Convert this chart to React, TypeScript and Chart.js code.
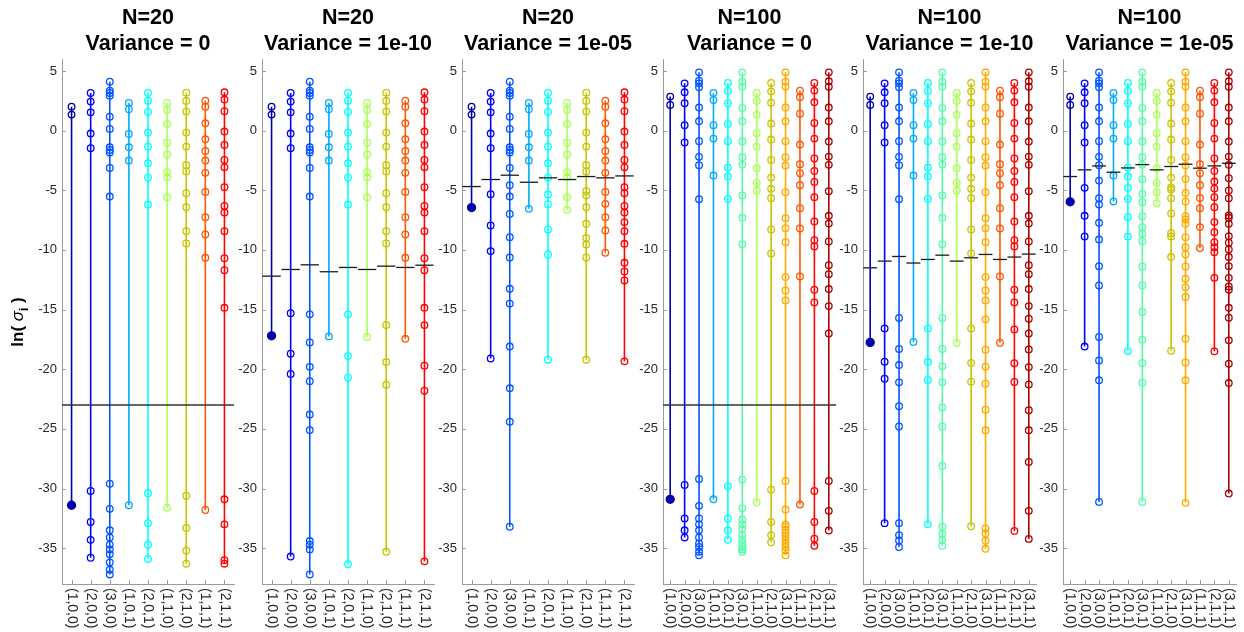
import React, { useEffect, useRef } from 'react';
import { Chart, registerables } from 'chart.js';
Chart.register(...registerables);

const LABELS9 = ['(1,0,0)', '(2,0,0)', '(3,0,0)', '(1,0,1)', '(2,0,1)', '(1,1,0)', '(2,1,0)', '(1,1,1)', '(2,1,1)'];
const LABELS12 = ['(1,0,0)', '(2,0,0)', '(3,0,0)', '(1,0,1)', '(2,0,1)', '(3,0,1)', '(1,1,0)', '(2,1,0)', '(3,1,0)', '(1,1,1)', '(2,1,1)', '(3,1,1)'];

const COLORS: Record<string, string> = {
  '(1,0,0)': '#0000AA',
  '(2,0,0)': '#0000FF',
  '(3,0,0)': '#0055FF',
  '(1,0,1)': '#00AAFF',
  '(2,0,1)': '#00FFFF',
  '(3,0,1)': '#55FFAA',
  '(1,1,0)': '#AAFF55',
  '(2,1,0)': '#C8C400',
  '(3,1,0)': '#FFAA00',
  '(1,1,1)': '#FF5500',
  '(2,1,1)': '#FF0000',
  '(3,1,1)': '#AA0000',
};

const Y_TICKS = [-35, -30, -25, -20, -15, -10, -5, 0, 5];
const THRESHOLD = -23;

// N=20 : large singular values (shared by Variance = 0 and 1e-10)
const N20_UPPER: number[][] = [
  [2.0, 1.34],
  [3.15, 2.43, 1.53, -0.25, -1.48],
  [4.1, 3.35, 3.15, 2.93, 1.17, 0.14, -1.4, -1.62, -1.84, -3.13, -5.53],
  [2.32, 1.79, -0.28, -1.4, -2.51],
  [3.15, 2.51, 1.56, -0.17, -1.34, -2.74, -3.94, -6.2],
  [2.32, 1.73, 0.56, -1.0, -2.0, -3.49, -3.91, -5.58],
  [3.18, 2.48, 1.59, -0.17, -1.34, -2.9, -3.43, -5.25, -6.42, -8.43, -9.46],
  [2.51, 2.0, 0.61, -0.73, -1.7, -2.51, -3.54, -5.14, -7.26, -8.71, -10.66],
  [3.21, 2.6, 1.62, -0.08, -1.2, -2.46, -3.07, -4.74, -6.31, -6.87, -8.43, -10.7, -11.7, -14.85],
];
const N20_V0_LOWER: number[][] = [
  [-31.4],
  [-30.2, -32.8, -34.3, -35.8],
  [-29.6, -31.7, -33.5, -34.1, -34.7, -35.1, -35.5, -36.2, -36.8, -37.2],
  [-31.4],
  [-30.4, -32.9, -34.7, -35.9],
  [-31.6],
  [-30.6, -33.3, -35.2, -36.3],
  [-31.8],
  [-30.9, -33.0, -36.0, -36.3],
];
const N20_V10_LOWER: number[][] = [
  [-17.2],
  [-15.3, -18.7, -20.4, -35.7],
  [-15.4, -17.75, -19.8, -21.0, -23.8, -25.1, -34.4, -34.7, -35.1, -37.2],
  [-17.25],
  [-15.4, -18.9, -20.7, -36.35],
  [-17.3],
  [-16.3, -19.4, -21.3, -35.3],
  [-17.45],
  [-16.3, -19.7, -21.8, -36.1],
];
const N20_V10_DASH = [-12.2, -11.64, -11.25, -11.83, -11.47, -11.64, -11.36, -11.47, -11.28];
const N20_V5: number[][] = [
  [2.0, 1.34, -6.45],
  [3.15, 2.43, 1.53, -0.25, -1.48, -5.33, -7.95, -10.1, -19.1],
  [4.1, 3.35, 3.15, 2.93, 1.17, 0.14, -1.4, -1.62, -1.84, -3.13, -4.58, -5.53, -6.98, -8.93, -10.63, -13.26, -14.5, -18.1, -21.6, -24.4, -33.2],
  [2.32, 1.79, -0.28, -1.4, -2.51, -6.56],
  [3.15, 2.51, 1.56, -0.17, -1.34, -2.74, -3.94, -5.36, -6.17, -8.29, -10.38, -19.2],
  [2.32, 1.73, 0.56, -1.0, -2.0, -3.49, -3.91, -5.58, -6.64],
  [3.18, 2.48, 1.59, -0.17, -1.34, -2.9, -3.43, -5.08, -5.44, -6.42, -7.81, -8.99, -9.55, -10.63, -19.2],
  [2.51, 2.0, 0.61, -0.73, -1.7, -2.51, -3.54, -5.14, -6.14, -7.26, -8.37, -10.24],
  [3.21, 2.6, 1.62, -0.08, -1.2, -2.46, -3.07, -4.74, -5.25, -6.31, -6.87, -7.67, -8.43, -9.49, -11.08, -11.81, -12.56, -19.34],
];
const N20_V5_DASH = [-4.69, -4.1, -3.74, -4.33, -3.96, -4.1, -3.85, -3.96, -3.8];

// N=100 : large singular values (shared by Variance = 0 and 1e-10)
const N100_UPPER: number[][] = [
  [2.85, 2.15],
  [3.96, 3.21, 2.29, 0.45, -1.0],
  [4.88, 4.19, 3.96, 3.63, 1.93, 0.78, -0.89, -2.2, -2.9, -5.75],
  [3.15, 2.57, 0.45, -0.67, -3.77],
  [3.99, 3.32, 2.29, 0.56, -0.89, -3.1, -3.85, -5.72],
  [4.88, 4.1, 3.68, 1.9, 0.78, -0.92, -2.23, -2.85, -5.44, -7.31, -9.52],
  [3.15, 2.51, 1.34, -0.22, -1.34, -3.15, -4.38, -5.02],
  [3.99, 3.29, 2.34, 0.59, -0.75, -2.46, -3.94, -4.88, -5.67, -8.29, -10.3],
  [4.88, 4.1, 3.68, 1.93, 0.78, -0.89, -2.23, -2.93, -5.16, -7.34, -8.18, -9.35, -12.28, -13.4, -14.23],
  [3.35, 2.79, 1.42, -1.17, -2.82, -3.57, -4.58, -6.5, -8.2, -12.22],
  [3.99, 3.35, 2.37, 0.64, -0.67, -2.34, -3.38, -4.3, -5.58, -7.62, -9.18, -9.71, -13.34, -14.4],
  [4.88, 4.13, 3.68, 1.93, 0.78, -0.92, -2.18, -2.87, -5.08, -7.14, -7.79, -9.29, -11.28, -12.03, -13.28, -14.71, -17.0],
];
const N100_V0_LOWER: number[][] = [
  [-30.9],
  [-29.7, -32.5, -33.5, -34.1],
  [-29.2, -31.45, -32.5, -33.0, -33.5, -34.1, -34.6, -34.9, -35.3, -35.6],
  [-30.9],
  [-29.8, -32.5, -33.5, -34.3],
  [-29.25, -31.65, -32.6, -33.0, -33.4, -33.9, -34.3, -34.6, -34.9, -35.1, -35.3],
  [-31.15],
  [-30.1, -32.8, -33.9, -34.5],
  [-29.36, -31.76, -33.0, -33.2, -33.45, -33.7, -34.0, -34.3, -34.6, -34.9, -35.2, -35.6],
  [-31.34],
  [-30.2, -32.8, -34.2, -34.8],
  [-29.36, -31.87, -33.52],
];
const N100_V10_LOWER: number[][] = [
  [-17.75],
  [-16.58, -19.37, -20.8, -32.9],
  [-15.7, -18.3, -19.65, -21.1, -23.1, -24.8, -32.9, -33.9, -34.36, -34.9],
  [-17.72],
  [-16.58, -19.4, -20.9, -33.0],
  [-15.7, -18.3, -19.76, -21.1, -23.2, -24.8, -28.1, -33.2, -33.8, -34.3, -34.8],
  [-17.8],
  [-16.58, -19.48, -21.04, -33.16],
  [-15.82, -18.36, -19.79, -21.21, -23.39, -25.12, -33.35, -33.77, -34.38, -35.05],
  [-17.78],
  [-16.66, -19.5, -21.07, -33.55],
  [-15.77, -18.34, -19.82, -21.27, -23.44, -25.12, -27.77, -31.87, -34.22],
];
const N100_V10_DASH = [-11.5, -10.94, -10.55, -11.1, -10.8, -10.44, -10.94, -10.66, -10.38, -10.8, -10.6, -10.35];
const N100_V5: number[][] = [
  [2.85, 2.15, -5.97],
  [3.96, 3.21, 2.29, 0.45, -1.0, -4.8, -7.14, -8.87, -18.1],
  [4.88, 4.19, 3.96, 3.63, 1.93, 0.78, -0.89, -2.2, -2.9, -4.19, -5.67, -6.2, -7.73, -9.13, -11.36, -12.98, -17.3, -19.26, -20.93, -31.12],
  [3.15, 2.57, 0.45, -0.67, -3.77, -5.94],
  [3.99, 3.32, 2.29, 0.56, -0.89, -3.1, -3.85, -4.8, -5.72, -7.26, -8.87, -18.48],
  [4.88, 4.1, 3.68, 1.9, 0.78, -0.92, -2.23, -2.85, -4.07, -5.3, -6.0, -7.17, -8.09, -8.65, -9.27, -11.39, -12.98, -15.2, -17.53, -19.48, -21.13, -31.12],
  [3.15, 2.51, 1.34, -0.22, -1.34, -3.15, -4.38, -5.16, -6.08],
  [3.99, 3.29, 2.34, 0.59, -0.75, -2.46, -3.94, -4.77, -4.94, -5.67, -6.95, -8.6, -8.87, -10.6, -18.45],
  [4.88, 4.1, 3.68, 1.93, 0.78, -0.89, -2.23, -2.93, -4.05, -5.22, -5.94, -7.17, -7.45, -7.81, -8.93, -9.77, -10.38, -11.39, -12.42, -13.12, -13.95, -17.44, -19.43, -20.93, -31.2],
  [3.35, 2.79, 1.42, -1.17, -2.82, -3.57, -4.58, -5.64, -6.5, -8.09, -9.85],
  [3.99, 3.35, 2.37, 0.64, -0.67, -2.34, -3.38, -4.27, -4.86, -5.58, -6.42, -7.67, -8.51, -9.35, -9.77, -10.19, -12.34, -18.5],
  [4.88, 4.13, 3.68, 1.93, 0.78, -0.92, -2.18, -2.87, -3.99, -5.02, -5.67, -7.12, -7.31, -7.81, -8.85, -9.4, -9.96, -10.6, -11.36, -12.34, -13.06, -13.34, -14.85, -15.68, -17.58, -19.54, -21.16, -30.42],
];
const N100_V5_DASH = [-3.85, -3.29, -2.96, -3.49, -3.13, -2.85, -3.29, -3.01, -2.82, -3.15, -2.96, -2.74];

const join = (a: number[][], b: number[][]) => a.map((v, i) => [...v, ...b[i]]);

type PanelDef = {
  t1: string;
  t2: string;
  labels: string[];
  data: number[][];
  dash: number[] | null;
  thresh: number | null;
  plotLeft: number;
  plotW: number;
  axisW: number;
  yLabel: boolean;
};

const PANELS: PanelDef[] = [
  { t1: 'N=20', t2: 'Variance = 0', labels: LABELS9, data: join(N20_UPPER, N20_V0_LOWER), dash: null, thresh: THRESHOLD, plotLeft: 62, plotW: 172, axisW: 62, yLabel: true },
  { t1: 'N=20', t2: 'Variance = 1e-10', labels: LABELS9, data: join(N20_UPPER, N20_V10_LOWER), dash: N20_V10_DASH, thresh: null, plotLeft: 262, plotW: 172, axisW: 50, yLabel: false },
  { t1: 'N=20', t2: 'Variance = 1e-05', labels: LABELS9, data: N20_V5, dash: N20_V5_DASH, thresh: null, plotLeft: 462, plotW: 172, axisW: 50, yLabel: false },
  { t1: 'N=100', t2: 'Variance = 0', labels: LABELS12, data: join(N100_UPPER, N100_V0_LOWER), dash: null, thresh: THRESHOLD, plotLeft: 663, plotW: 173, axisW: 50, yLabel: false },
  { t1: 'N=100', t2: 'Variance = 1e-10', labels: LABELS12, data: join(N100_UPPER, N100_V10_LOWER), dash: N100_V10_DASH, thresh: null, plotLeft: 863, plotW: 173, axisW: 50, yLabel: false },
  { t1: 'N=100', t2: 'Variance = 1e-05', labels: LABELS12, data: N100_V5, dash: N100_V5_DASH, thresh: null, plotLeft: 1063, plotW: 173, axisW: 50, yLabel: false },
];

const FONT = '"Liberation Sans", Arial, Helvetica, sans-serif';
const AXIS_COLOR = '#9a9a9a';
const H = 632;
const PAD_RIGHT = 6;

function Panel({ def }: { def: PanelDef }) {
  const ref = useRef<HTMLCanvasElement>(null);
  useEffect(() => {
    if (!ref.current) return;
    const n = def.labels.length;
    const datasets: any[] = [];
    def.data.forEach((vals, i) => {
      const c = COLORS[def.labels[i]];
      const sorted = [...vals].sort((a, b) => b - a);
      const isFirst = i === 0;
      datasets.push({
        data: sorted.map((v) => ({ x: i + 1, y: v })),
        showLine: true,
        borderColor: c,
        borderWidth: 1.6,
        pointStyle: 'circle',
        pointRadius: sorted.map((_, j) => (isFirst && j === sorted.length - 1 ? 4 : 3.3)),
        pointBorderWidth: 1.3,
        pointBorderColor: c,
        pointBackgroundColor: sorted.map((_, j) => (isFirst && j === sorted.length - 1 ? c : 'rgba(0,0,0,0)')),
        order: 2,
      });
    });
    if (def.dash) {
      def.dash.forEach((y, i) => {
        datasets.push({
          data: [{ x: i + 1 - 0.48, y }, { x: i + 1 + 0.48, y }],
          showLine: true,
          borderColor: '#1a1a1a',
          borderWidth: 1.3,
          pointRadius: 0,
          order: 0,
        });
      });
    }
    if (def.thresh !== null) {
      datasets.push({
        data: [{ x: 0.5, y: def.thresh }, { x: n + 0.5, y: def.thresh }],
        showLine: true,
        borderColor: '#333333',
        borderWidth: 1.6,
        pointRadius: 0,
        order: 0,
      });
    }

    const decor = {
      id: 'decor',
      afterDraw(chart: any) {
        const ctx = chart.ctx;
        const area = chart.chartArea;
        const xs = chart.scales.x;
        const ys = chart.scales.y;
        ctx.save();
        // titles
        ctx.fillStyle = '#000';
        ctx.font = `bold 21.5px ${FONT}`;
        ctx.textAlign = 'center';
        ctx.textBaseline = 'middle';
        const cx = (area.left + area.right) / 2;
        ctx.fillText(def.t1, cx, 18);
        ctx.fillText(def.t2, cx, 44);
        // inward ticks
        ctx.strokeStyle = AXIS_COLOR;
        ctx.lineWidth = 1;
        Y_TICKS.forEach((v) => {
          const y = Math.round(ys.getPixelForValue(v)) + 0.5;
          ctx.beginPath();
          ctx.moveTo(area.left, y);
          ctx.lineTo(area.left + 4, y);
          ctx.stroke();
        });
        def.labels.forEach((_, i) => {
          const x = Math.round(xs.getPixelForValue(i + 1)) + 0.5;
          ctx.beginPath();
          ctx.moveTo(x, area.bottom);
          ctx.lineTo(x, area.bottom - 4);
          ctx.stroke();
        });
        // rotated x labels (reading top to bottom)
        ctx.fillStyle = '#262626';
        ctx.font = `14px ${FONT}`;
        ctx.textAlign = 'left';
        ctx.textBaseline = 'middle';
        def.labels.forEach((lab, i) => {
          const x = xs.getPixelForValue(i + 1);
          ctx.save();
          ctx.translate(x, area.bottom + 4);
          ctx.rotate(Math.PI / 2);
          ctx.fillText(lab, 0, 0);
          ctx.restore();
        });
        // y axis label
        if (def.yLabel) {
          ctx.save();
          ctx.translate(17, 322);
          ctx.rotate(-Math.PI / 2);
          ctx.fillStyle = '#000';
          ctx.textBaseline = 'alphabetic';
          ctx.textAlign = 'left';
          const parts = [
            { t: 'ln( ', f: `bold 17px ${FONT}`, dy: 0 },
            { t: 'σ', f: `italic 17px ${FONT}`, dy: 0 },
            { t: 'i', f: `bold 12px ${FONT}`, dy: 5 },
            { t: ' )', f: `bold 17px ${FONT}`, dy: 0 },
          ];
          let total = 0;
          parts.forEach((p) => {
            ctx.font = p.f;
            total += ctx.measureText(p.t).width;
          });
          let px = -total / 2;
          parts.forEach((p) => {
            ctx.font = p.f;
            ctx.fillText(p.t, px, 6 + p.dy);
            px += ctx.measureText(p.t).width;
          });
          ctx.restore();
        }
        ctx.restore();
      },
    };

    const chart = new Chart(ref.current, {
      type: 'scatter',
      data: { datasets },
      options: {
        responsive: false,
        animation: false,
        events: [],
        layout: { padding: { top: 59, right: PAD_RIGHT, left: 0, bottom: 0 } },
        plugins: { legend: { display: false }, tooltip: { enabled: false }, title: { display: false } },
        scales: {
          x: {
            type: 'linear',
            min: 0.5,
            max: n + 0.5,
            grid: { display: false, drawTicks: false },
            border: { display: true, color: AXIS_COLOR, width: 1 },
            ticks: { display: false },
            afterFit: (s: any) => {
              s.height = 48;
            },
          },
          y: {
            type: 'linear',
            min: -38,
            max: 6,
            grid: { display: false, drawTicks: false },
            border: { display: true, color: AXIS_COLOR, width: 1 },
            afterBuildTicks: (s: any) => {
              s.ticks = Y_TICKS.map((v) => ({ value: v }));
            },
            ticks: {
              padding: 5,
              color: '#262626',
              font: { size: 13, family: FONT },
              callback: (v: any) => String(v),
            },
            afterFit: (s: any) => {
              s.width = def.axisW;
            },
          },
        },
      },
      plugins: [decor],
    } as any);
    return () => chart.destroy();
  }, [def]);

  const w = def.axisW + def.plotW + PAD_RIGHT;
  return (
    <canvas
      ref={ref}
      width={w}
      height={H}
      style={{ position: 'absolute', left: def.plotLeft - def.axisW, top: 0, width: w, height: H }}
    />
  );
}

export default function App() {
  return (
    <div style={{ position: 'fixed', left: 0, top: 0, width: 1244, height: H, background: '#fff', overflow: 'hidden' }}>
      {PANELS.map((p, i) => (
        <Panel key={i} def={p} />
      ))}
    </div>
  );
}
